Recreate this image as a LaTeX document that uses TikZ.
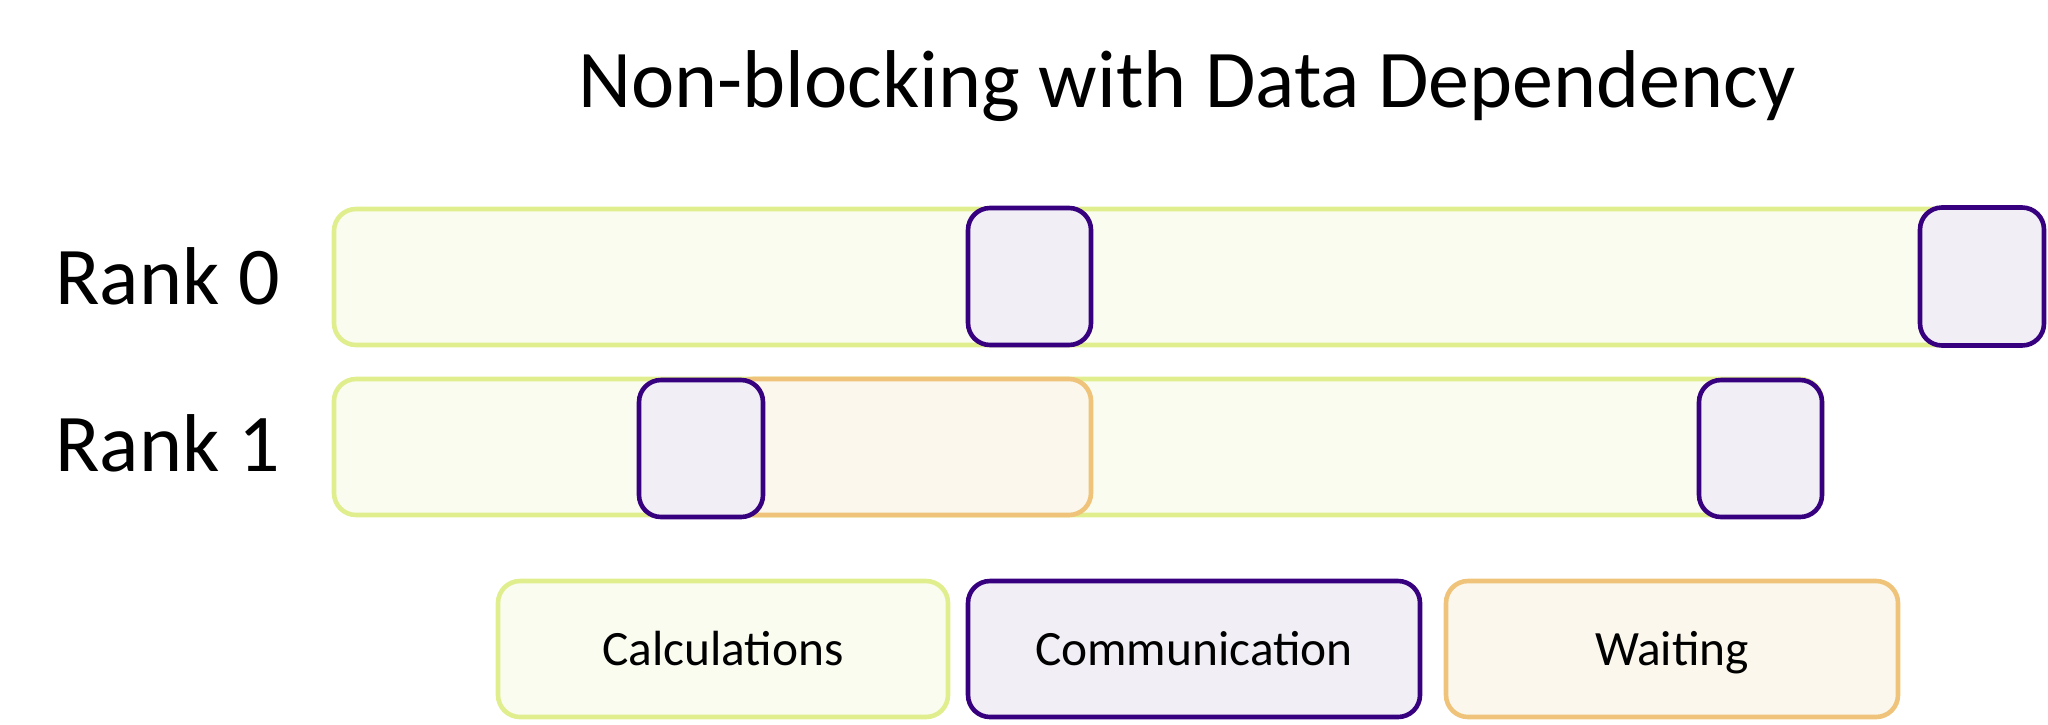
\documentclass[tikz,border=0pt]{standalone}
\usepackage{fontspec}
\setmainfont{Carlito}
\definecolor{calcline}{HTML}{E0EE8E}
\definecolor{calcfill}{HTML}{FAFCF0}
\definecolor{commline}{HTML}{36007F}
\definecolor{commfill}{HTML}{F1EEF6}
\definecolor{waitline}{HTML}{EFC47A}
\definecolor{waitfill}{HTML}{FBF7EC}
\tikzset{
  seg/.style={rectangle, rounded corners=11pt, line width=2.3pt, inner sep=0pt},
  calcbox/.style={seg, draw=calcline, fill=calcfill},
  commbox/.style={seg, draw=commline, fill=commfill},
  waitbox/.style={seg, draw=waitline, fill=waitfill},
  bigtext/.style={font=\fontsize{41}{48}\selectfont, inner sep=0pt},
  legtext/.style={font=\fontsize{24.7}{30}\selectfont, text height=18pt, text depth=2pt},
}
\begin{document}
\begin{tikzpicture}[x=0.5pt,y=-0.5pt]
\useasboundingbox (0,0) rectangle (2048,724);
% title and labels
\node[bigtext, anchor=base] (title) at (1187,107) {Non-blocking with Data Dependency};
\node[bigtext, anchor=base west] (lab0) at (55,304) {Rank 0};
\node[bigtext, anchor=base west] (lab1) at (55,471) {Rank 1};
% rank 0
\node[calcbox, minimum width=813pt, minimum height=68pt] (r0calc) at (1147,277) {};
\node[commbox, minimum width=61.5pt, minimum height=68.5pt] (r0comma) at (1029.5,276.5) {};
\node[commbox, minimum width=62pt, minimum height=69pt] (r0commb) at (1982,276.5) {};
% rank 1
\node[calcbox, minimum width=744pt, minimum height=68pt] (r1calc) at (1078,447) {};
\node[waitbox, minimum width=180pt, minimum height=68pt] (r1wait) at (911,447) {};
\node[commbox, minimum width=62pt, minimum height=68.5pt] (r1comma) at (701,448.5) {};
\node[commbox, minimum width=61.5pt, minimum height=68.5pt] (r1commb) at (1760.5,448.5) {};
% legend
\node[calcbox, minimum width=225pt, minimum height=68pt, legtext] (legcalc) at (723,649) {Calculations};
\node[commbox, minimum width=226pt, minimum height=68pt, legtext] (legcomm) at (1194,649) {Communication};
\node[waitbox, minimum width=226pt, minimum height=68pt, legtext] (legwait) at (1672,649) {Waiting};
\end{tikzpicture}
\end{document}
